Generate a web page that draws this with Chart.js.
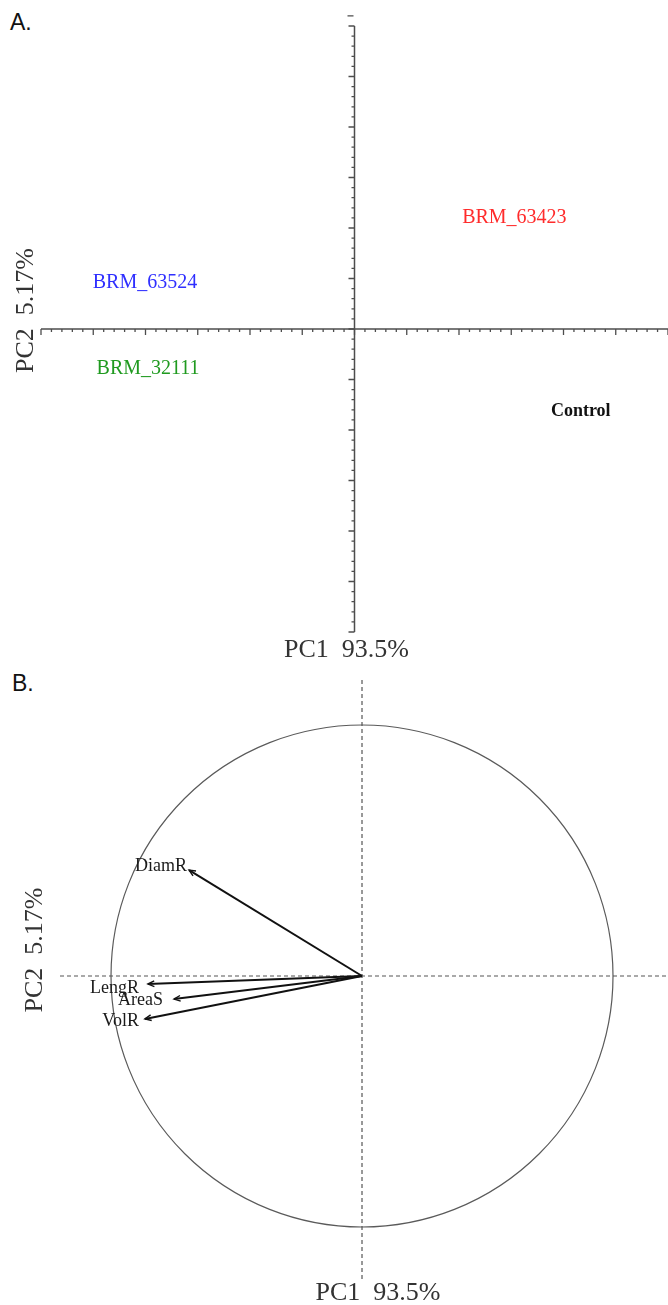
<!DOCTYPE html>
<html>
<head>
<meta charset="utf-8">
<script src="https://cdn.jsdelivr.net/npm/chart.js@4/dist/chart.umd.min.js"></script>
<style>
  html, body { margin: 0; padding: 0; background: #ffffff; }
  body { width: 668px; height: 1305px; position: relative; overflow: hidden; }
  .panel-tag { position: absolute; font-family: "Liberation Sans", Arial, sans-serif; font-size: 23px; line-height: 23px; color: #111; }
  canvas { position: absolute; left: 0; }
  #scoreCanvas { top: 0; }
  #loadCanvas { top: 660px; }
</style>
</head>
<body>
<div class="panel-tag" style="left:10px; top:11px;">A.</div>
<div class="panel-tag" style="left:12px; top:672px;">B.</div>
<canvas id="scoreCanvas" width="668" height="665"></canvas>
<canvas id="loadCanvas" width="668" height="645"></canvas>
<script>
// ---- Individual scores (panel A) ----
const groupNames  = ['BRM_63423', 'BRM_63524', 'BRM_32111', 'Control'];
const groupPC1    = [3.06, -4.01, -3.95, 4.33];
const groupPC2    = [2.23, 0.94, -0.76, -1.60];
const groupColors = ['#ff2b2b', '#2f2fff', '#1f9a1f', '#111111'];

// ---- Variable loadings on the correlation circle (panel B) ----
const variableNames = ['DiamR', 'LengR', 'AreaS', 'VolR'];
const varPC1        = [-0.689, -0.853, -0.749, -0.865];
const varPC2        = [0.422, -0.032, -0.092, -0.171];

// ---- Axis titles ----
const pc1Title = 'PC1  93.5%';
const pc2Title = 'PC2  5.17%';

const SERIF = '"Liberation Serif", "Times New Roman", serif';

function drawAxisTitles(ctx, xTitle, xPos, yTitle, yPos) {
  ctx.save();
  ctx.fillStyle = '#333';
  ctx.font = '26px ' + SERIF;
  ctx.textAlign = 'center';
  ctx.textBaseline = 'alphabetic';
  ctx.fillText(xTitle, xPos.x, xPos.y);
  ctx.translate(yPos.x, yPos.y);
  ctx.rotate(-Math.PI / 2);
  ctx.fillText(yTitle, 0, 0);
  ctx.restore();
}

// Cross-shaped axes through the origin with major/minor ticks
const crossAxes = {
  id: 'crossAxes',
  beforeDatasetsDraw(chart) {
    const { ctx, scales: { x, y } } = chart;
    const x0 = x.getPixelForValue(0);
    const y0 = y.getPixelForValue(0);
    ctx.save();
    ctx.strokeStyle = '#4d4d4d';
    ctx.lineWidth = 1.5;
    ctx.beginPath();
    ctx.moveTo(x.getPixelForValue(x.min), y0);
    ctx.lineTo(x.getPixelForValue(x.max), y0);
    ctx.moveTo(x0, y.getPixelForValue(y.max));
    ctx.lineTo(x0, y.getPixelForValue(y.min));
    ctx.stroke();
    ctx.lineWidth = 1.3;
    ctx.beginPath();
    for (let i = Math.round(x.min * 5); i <= Math.round(x.max * 5); i++) {
      const px = x.getPixelForValue(i / 5);
      const len = i % 5 === 0 ? 6 : 3;
      ctx.moveTo(px, y0);
      ctx.lineTo(px, y0 + len);
    }
    for (let i = Math.round(y.min * 5); i <= Math.round(y.max * 5); i++) {
      const py = y.getPixelForValue(i / 5);
      const len = i % 5 === 0 ? 6 : 3;
      ctx.moveTo(x0, py);
      ctx.lineTo(x0 - len, py);
    }
    // detached tick just above the top of the vertical axis
    const yt = y.getPixelForValue(y.max + 0.2);
    ctx.moveTo(x0 - 7, yt);
    ctx.lineTo(x0 - 1, yt);
    ctx.stroke();
    ctx.restore();
  },
  afterDatasetsDraw(chart) {
    const { ctx, scales: { x, y }, chartArea } = chart;
    const pts = chart.data.datasets[0].data;
    ctx.save();
    ctx.textAlign = 'center';
    ctx.textBaseline = 'alphabetic';
    pts.forEach((p, i) => {
      const bold = groupNames[i] === 'Control';
      ctx.font = (bold ? 'bold 18px ' : '20px ') + SERIF;
      ctx.fillStyle = groupColors[i];
      ctx.fillText(groupNames[i], x.getPixelForValue(p.x), y.getPixelForValue(p.y) + 6.5);
    });
    ctx.restore();
    const cx = (chartArea.left + chartArea.right) / 2;
    const cy = (chartArea.top + chartArea.bottom) / 2;
    drawAxisTitles(ctx, pc1Title, { x: cx - 8, y: chartArea.bottom + 25 },
                        pc2Title, { x: chartArea.left - 8, y: cy - 18.5 });
  }
};

new Chart(document.getElementById('scoreCanvas'), {
  type: 'scatter',
  data: {
    datasets: [{
      data: groupNames.map((n, i) => ({ x: groupPC1[i], y: groupPC2[i] })),
      pointRadius: 0,
      pointHoverRadius: 0
    }]
  },
  options: {
    responsive: false,
    animation: false,
    devicePixelRatio: 1,
    events: [],
    layout: { padding: { left: 41, right: 0, top: 26, bottom: 33 } },
    plugins: { legend: { display: false }, tooltip: { enabled: false } },
    scales: {
      x: { type: 'linear', min: -6, max: 6, display: false },
      y: { type: 'linear', min: -6, max: 6, display: false }
    }
  },
  plugins: [crossAxes]
});

// label placement relative to the arrow tip: right edge dx, baseline dy
const tipLabelOffset = {
  DiamR: { dx: -2, dy: 1 },
  LengR: { dx: -9, dy: 9 },
  AreaS: { dx: -11, dy: 6 },
  VolR:  { dx: -6, dy: 7 }
};

// Correlation circle, dashed origin lines, arrow heads and variable names
const corCircle = {
  id: 'corCircle',
  beforeDatasetsDraw(chart) {
    const { ctx, scales: { x, y }, chartArea } = chart;
    const x0 = x.getPixelForValue(0);
    const y0 = y.getPixelForValue(0);
    const rx = x.getPixelForValue(1) - x0;
    const ry = y0 - y.getPixelForValue(1);
    ctx.save();
    ctx.strokeStyle = '#5a5a5a';
    ctx.lineWidth = 1.2;
    ctx.beginPath();
    ctx.ellipse(x0, y0, rx, ry, 0, 0, Math.PI * 2);
    ctx.stroke();
    ctx.setLineDash([4, 3]);
    ctx.strokeStyle = '#555';
    ctx.beginPath();
    ctx.moveTo(chartArea.left, y0);
    ctx.lineTo(chartArea.right, y0);
    ctx.moveTo(x0, chartArea.top);
    ctx.lineTo(x0, chartArea.bottom);
    ctx.stroke();
    ctx.restore();
  },
  afterDatasetsDraw(chart) {
    const { ctx, scales: { x, y } } = chart;
    const x0 = x.getPixelForValue(0);
    const y0 = y.getPixelForValue(0);
    ctx.save();
    chart.data.datasets.forEach((ds) => {
      const tip = ds.data[1];
      const tx = x.getPixelForValue(tip.x);
      const ty = y.getPixelForValue(tip.y);
      const ang = Math.atan2(ty - y0, tx - x0);
      const head = 7, spread = 0.42;
      ctx.strokeStyle = '#111';
      ctx.lineWidth = 1.4;
      ctx.beginPath();
      ctx.moveTo(tx - head * Math.cos(ang - spread), ty - head * Math.sin(ang - spread));
      ctx.lineTo(tx, ty);
      ctx.lineTo(tx - head * Math.cos(ang + spread), ty - head * Math.sin(ang + spread));
      ctx.stroke();
      const off = tipLabelOffset[ds.label] || { dx: -4, dy: 6 };
      ctx.font = '18px ' + SERIF;
      ctx.fillStyle = '#1a1a1a';
      ctx.textAlign = 'right';
      ctx.textBaseline = 'alphabetic';
      ctx.fillText(ds.label, tx + off.dx, ty + off.dy);
    });
    ctx.restore();
    drawAxisTitles(ctx, pc1Title, { x: x0 + 16, y: 640 },
                        pc2Title, { x: 42, y: y0 - 26 });
  }
};

new Chart(document.getElementById('loadCanvas'), {
  type: 'scatter',
  data: {
    datasets: variableNames.map((name, i) => ({
      label: name,
      data: [{ x: 0, y: 0 }, { x: varPC1[i], y: varPC2[i] }],
      showLine: true,
      borderColor: '#111',
      borderWidth: 2,
      pointRadius: 0,
      pointHoverRadius: 0
    }))
  },
  options: {
    responsive: false,
    animation: false,
    devicePixelRatio: 1,
    events: [],
    layout: { padding: { left: 60, right: 0, top: 20, bottom: 25 } },
    plugins: { legend: { display: false }, tooltip: { enabled: false } },
    scales: {
      x: { type: 'linear', min: -1.2032, max: 1.2191, display: false },
      y: { type: 'linear', min: -1.2112, max: 1.1793, display: false }
    }
  },
  plugins: [corCircle]
});
</script>
</body>
</html>
